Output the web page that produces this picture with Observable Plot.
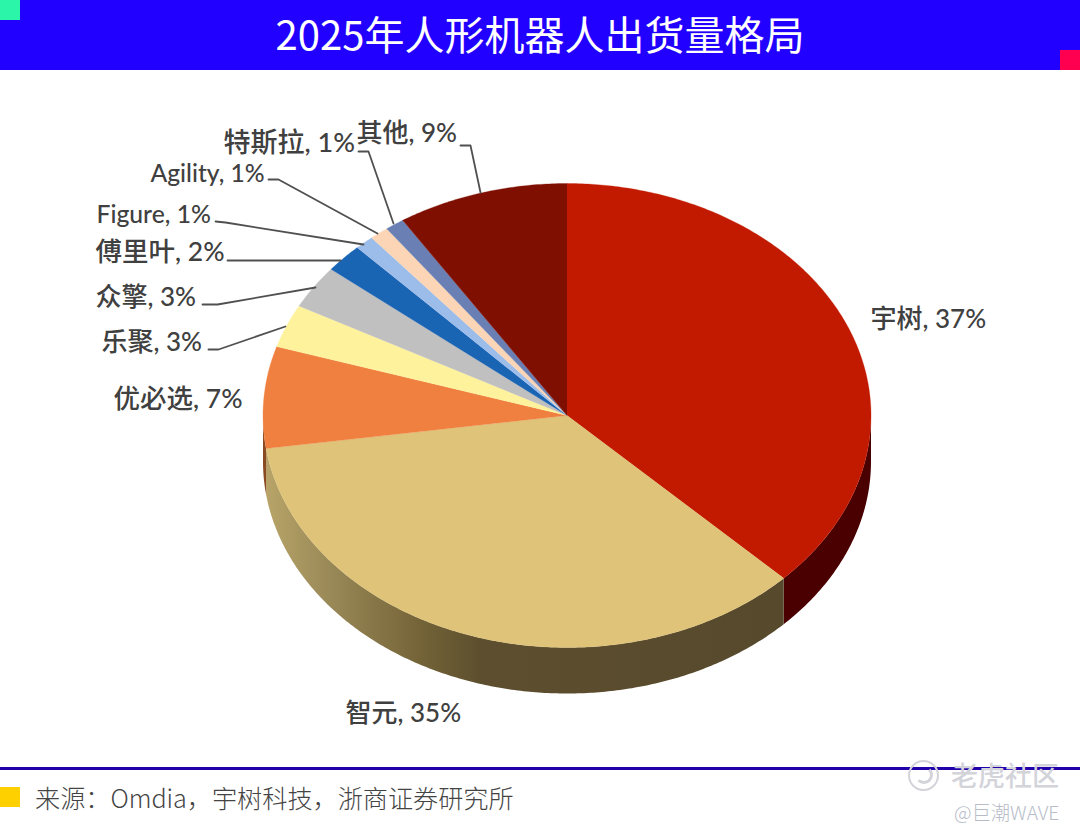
<!DOCTYPE html>
<html lang="zh">
<head>
<meta charset="utf-8">
<script src="https://cdn.jsdelivr.net/npm/d3@7"></script>
<script src="https://cdn.jsdelivr.net/npm/@observablehq/plot@0.6"></script>
<style>
html,body{margin:0;padding:0;background:#fff;}
#page{position:relative;width:1080px;height:837px;overflow:hidden;font-family:"Noto Sans CJK SC","Noto Sans",sans-serif;}
#head{position:absolute;left:0;top:-2px;width:1080px;height:70px;color:#fff;font-size:40px;font-weight:400;line-height:70px;text-align:center;}
#headFill{position:absolute;left:0;top:0;width:1080px;height:70px;background:#2200ff;}
.sq{position:absolute;width:20px;height:20px;}
#chart{position:absolute;left:0;top:70px;}
#rule{position:absolute;left:0;top:767px;width:1080px;height:3px;background:#2200aa;}
#src{position:absolute;left:35px;top:779px;font-size:25.15px;line-height:36px;color:#444;white-space:nowrap;font-weight:300;}
#wm1{position:absolute;left:951px;top:757px;font-size:27px;line-height:36px;color:#d3d3da;font-weight:500;white-space:nowrap;}
#wm2{position:absolute;left:954px;top:799px;font-size:19.3px;line-height:26px;color:#b8bcc8;white-space:nowrap;font-weight:300;}
#ico{position:absolute;left:908px;top:760px;width:27px;height:27px;border:2px solid #d3d3da;border-radius:50%;}
#ico2{position:absolute;left:915px;top:766px;width:12px;height:12px;border:3px solid #d3d3da;border-left-color:transparent;border-top-color:transparent;border-radius:50%;}
</style>
</head>
<body>
<div id="page">
  <div id="headFill"></div>
  <div id="head"></div>
  <div class="sq" style="left:0;top:0;background:#2bf5a8"></div>
  <div class="sq" style="left:1060px;top:50px;background:#ff0050"></div>
  <div id="chart"></div>
  <div id="rule"></div>
  <div class="sq" style="left:0;top:787px;background:#ffd000"></div>
  <div id="src"></div>
  <div id="ico"></div>
  <div id="ico2"></div>
  <div id="wm1">老虎社区</div>
  <div id="wm2">@巨潮WAVE</div>
</div>
<script>
const title = "2025年人形机器人出货量格局";
const source = "来源\uFF1AOmdia\uFF0C宇树科技\uFF0C浙商证券研究所";
const names = ["宇树","智元","优必选","乐聚","众擎","傅里叶","Figure","Agility","特斯拉","其他"];
const shares = [37,35,7,3,3,2,1,1,1,9];
const topColors = ["#c21a00","#dfc378","#f08040","#fff29c","#c0c0c0","#1a64b4","#9cbcea","#fbd5b5","#6a80b4","#7f0f00"];
const wallColors = ["#4a0000","url(#wallTan)","#8a4a22","#000","#000","#000","#000","#000","#000","#000"];

// Layout of the drawing, in chart units (the y scale runs 70..767 top to bottom).
const pie = {cx:566.5, cy:415, rx:304, ry:232, depth:46};
const labelX = [870,345,113,101,95,95,96,150,223,356];
const labelY = [319,713,399,342,297,252,215,174,143,133];
const labelSize = [26,26,26.5,26,26,26.5,24.7,24.6,27,26];
const leaders = [
  null, null, null,
  [[208,349],[218,349],[285,326]],
  [[202,304],[217,304],[315,287]],
  [[227,260],[340,260]],
  [[215,221],[225,222],[363,244]],
  [[268,179],[278,179],[377,233]],
  [[358,151],[368,151],[393,223]],
  [[460,145],[470,145],[480,192]]
];

document.getElementById("head").textContent = title;
document.getElementById("src").textContent = source;

const total = d3.sum(shares);
const cum = d3.cumsum(shares);
const spans = shares.map((v,i)=>({i,a0:(cum[i]-v)/total*2*Math.PI,a1:cum[i]/total*2*Math.PI}));
const px = a => pie.cx + pie.rx*Math.sin(a);
const py = a => pie.cy - pie.ry*Math.cos(a);
const arcAngles = (a0,a1) => {
  const n = Math.max(2,Math.ceil((a1-a0)/0.01));
  return d3.range(n+1).map(k=>a0+(a1-a0)*k/n);
};
const topPts = s => [{x:pie.cx,y:pie.cy},...arcAngles(s.a0,s.a1).map(a=>({x:px(a),y:py(a)}))];
const wallPts = s => {
  const a0=Math.max(s.a0,Math.PI/2), a1=Math.min(s.a1,3*Math.PI/2);
  if(a1<=a0) return null;
  const arc=arcAngles(a0,a1);
  return [...arc.map(a=>({x:px(a),y:py(a)})),...arc.slice().reverse().map(a=>({x:px(a),y:py(a)+pie.depth}))];
};

const defs = () => {
  const d = d3.create("svg:defs");
  const g = d.append("linearGradient").attr("id","wallTan").attr("x1",0).attr("x2",1).attr("y1",0).attr("y2",0);
  [[0,"#b8a468"],[0.12,"#9a8a58"],[0.295,"#746438"],[0.42,"#5c4e2e"],[1,"#57492c"]]
    .forEach(([o,c])=>g.append("stop").attr("offset",o).attr("stop-color",c));
  return d.node();
};

const marks = [defs];
spans.forEach(s=>{
  const w = wallPts(s);
  if(w) marks.push(Plot.line(w,{x:"x",y:"y",fill:wallColors[s.i],stroke:"none"}));
});
spans.forEach(s=>{
  marks.push(Plot.line(topPts(s),{x:"x",y:"y",fill:topColors[s.i],stroke:topColors[s.i],strokeWidth:0.3}));
});
leaders.forEach(l=>{
  if(l) marks.push(Plot.line(l,{x:d=>d[0],y:d=>d[1],stroke:"#505050",strokeWidth:1.8}));
});
names.forEach((n,i)=>{
  marks.push(Plot.text([`${n}, ${shares[i]}%`],{
    x:()=>labelX[i],y:()=>labelY[i],text:d=>d,textAnchor:"start",fontSize:labelSize[i],fontWeight:500,fill:"#404040",
    fontFamily:'Lato,"Noto Sans CJK SC",sans-serif'
  }));
});

const chart = Plot.plot({
  width:1080,height:697,margin:0,
  x:{domain:[0,1080],axis:null},
  y:{domain:[767,70],range:[697,0],axis:null},
  style:{background:"transparent"},
  marks
});
document.getElementById("chart").appendChild(chart);
</script>
</body>
</html>
